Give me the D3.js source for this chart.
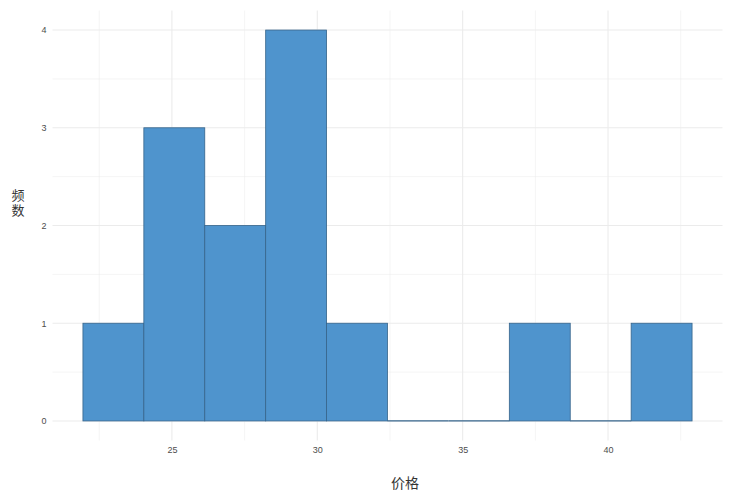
<!DOCTYPE html>
<html><head><meta charset="utf-8">
<script src="https://cdn.jsdelivr.net/npm/d3@7"></script>
<style>body{margin:0;background:#fff}</style>
</head><body>
<svg id="c" width="729" height="492"></svg>
<script>
const binEdges = [21.94,24.035,26.13,28.225,30.32,32.415,34.51,36.605,38.70,40.795,42.89];
const counts = [1,3,2,4,1,0,0,1,0,1];
const xTicks = [25,30,35,40];
const yTicks = [0,1,2,3,4];
const xLabel = "价格";
const yLabel = "频数";

const svg = d3.select("#c");
const x = d3.scaleLinear().domain([20.893,43.937]).range([52.5,722.5]);
const y = d3.scaleLinear().domain([-0.2,4.2]).range([440.5,10.5]);
const L=52.5,R=722.5,T=10.5,B=440.5;
const grid = svg.append("g");
d3.range(0,4.5,0.5).filter(v=>v%1!==0).forEach(v=>{
  grid.append("line").attr("x1",L).attr("x2",R).attr("y1",y(v)).attr("y2",y(v)).attr("stroke","#ebebeb").attr("stroke-width",0.55);
});
[22.5,27.5,32.5,37.5,42.5].forEach(v=>{
  grid.append("line").attr("x1",x(v)).attr("x2",x(v)).attr("y1",T).attr("y2",B).attr("stroke","#ebebeb").attr("stroke-width",0.55);
});
yTicks.forEach(v=>{
  grid.append("line").attr("x1",L).attr("x2",R).attr("y1",y(v)).attr("y2",y(v)).attr("stroke","#ebebeb").attr("stroke-width",1.07);
});
xTicks.forEach(v=>{
  grid.append("line").attr("x1",x(v)).attr("x2",x(v)).attr("y1",T).attr("y2",B).attr("stroke","#ebebeb").attr("stroke-width",1.07);
});
const bins = counts.map((c,i)=>({x0:binEdges[i],x1:binEdges[i+1],c}));
const bars = svg.append("g");
bars.selectAll("rect").data(bins.filter(d=>d.c>0)).join("rect")
  .attr("x",d=>x(d.x0)).attr("width",d=>x(d.x1)-x(d.x0))
  .attr("y",d=>y(d.c)).attr("height",d=>y(0)-y(d.c))
  .attr("fill","#4F94CD").attr("stroke","#36648B").attr("stroke-width",0.8);
bars.selectAll("line").data(bins.filter(d=>d.c===0)).join("line")
  .attr("x1",d=>x(d.x0)).attr("x2",d=>x(d.x1)).attr("y1",y(0)).attr("y2",y(0))
  .attr("stroke","#36648B").attr("stroke-width",1.2);
const xa = d3.axisBottom(x).tickValues(xTicks).tickSize(0).tickPadding(0).tickFormat(d3.format("d"));
svg.append("g").attr("transform",`translate(0,${B+6})`).call(xa)
  .call(g=>g.select(".domain").remove())
  .selectAll("text").attr("font-family","Liberation Sans, Arial, sans-serif").attr("font-size",9).attr("fill","#4d4d4d").attr("dy","0.71em");
const ya = d3.axisLeft(y).tickValues(yTicks).tickSize(0).tickPadding(0).tickFormat(d3.format("d"));
svg.append("g").attr("transform",`translate(${L-6},0)`).call(ya)
  .call(g=>g.select(".domain").remove())
  .selectAll("text").attr("font-family","Liberation Sans, Arial, sans-serif").attr("font-size",9).attr("fill","#4d4d4d").attr("dy","0.32em");
svg.append("text").attr("x",405).attr("y",488).attr("text-anchor","middle")
  .attr("font-family","Noto Sans CJK SC, sans-serif").attr("font-size",14).attr("fill","#333").text(xLabel);
svg.append("text").attr("x",18).attr("y",204).attr("text-anchor","middle")
  .style("writing-mode","vertical-rl").style("letter-spacing","2.5px")
  .attr("font-family","Noto Sans CJK SC, sans-serif").attr("font-size",13).attr("fill","#333").text(yLabel);
</script>
</body></html>
